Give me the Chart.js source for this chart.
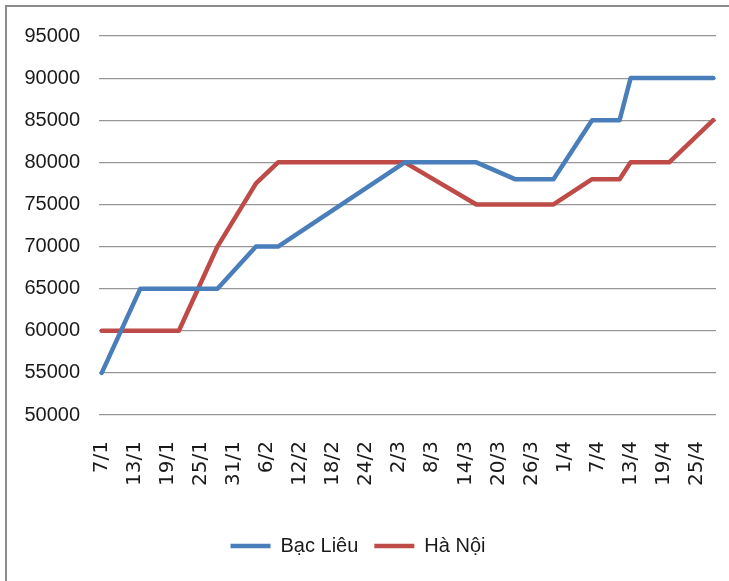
<!DOCTYPE html>
<html>
<head>
<meta charset="utf-8">
<script src="https://cdn.jsdelivr.net/npm/chart.js@4.4.1/dist/chart.umd.min.js"></script>
<style>
  html, body { margin: 0; padding: 0; background: #fff; }
  .wrap { position: relative; width: 729px; height: 581px; overflow: hidden; }
  .frame { position: absolute; left: 5px; top: 5px; width: 740px; height: 600px;
           border-left: 2px solid #8c8c8c; border-top: 2px solid #8c8c8c; }
  canvas { position: absolute; left: 0; top: 0; }
</style>
</head>
<body>
<div class="wrap">
  <div class="frame"></div>
  <canvas id="priceChart" width="729" height="581"></canvas>
</div>
<script>
  // dates (d/m) where the lines change direction
  const dates = ['7/1', '14/1', '21/1', '28/1', '4/2', '8/2', '3/3', '16/3', '23/3', '30/3', '6/4', '11/4', '13/4', '20/4', '28/4'];
  const bacLieu = [55000, 65000, 65000, 65000, 70000, 70000, 80000, 80000, 78000, 78000, 85000, 85000, 90000, 90000, 90000];
  const haNoi = [60000, 60000, 60000, 70000, 77500, 80000, 80000, 75000, 75000, 75000, 78000, 78000, 80000, 80000, 85000];
  const tickLabels = ['7/1', '13/1', '19/1', '25/1', '31/1', '6/2', '12/2', '18/2', '24/2', '2/3', '8/3', '14/3', '20/3', '26/3', '1/4', '7/4', '13/4', '19/4', '25/4'];
  const yTicks = { min: 50000, max: 95000, step: 5000 };

  // day offset from 7/1
  function dayOf(label) {
    const [d, m] = label.split('/').map(Number);
    return (Date.UTC(2011, m - 1, d) - Date.UTC(2011, 0, 7)) / 86400000;
  }

  function toPoints(values) {
    return values.map((v, i) => ({ x: dayOf(dates[i]), y: v }));
  }

  const tickDays = tickLabels.map(dayOf);
  const lastDay = dayOf(dates[dates.length - 1]);
  const labelFont = { family: "'Liberation Sans', Arial, sans-serif", size: 20 };

  new Chart(document.getElementById('priceChart'), {
    type: 'line',
    data: {
      datasets: [
        { label: 'Bạc Liêu', data: toPoints(bacLieu), borderColor: '#4a7ebb', backgroundColor: '#4a7ebb' },
        { label: 'Hà Nội', data: toPoints(haNoi), borderColor: '#be4b48', backgroundColor: '#be4b48' }
      ]
    },
    options: {
      responsive: false,
      animation: false,
      events: [],
      layout: { padding: { left: 0, right: 13, top: 36, bottom: 15 } },
      elements: {
        line: { borderWidth: 4.5, tension: 0, borderJoinStyle: 'round', borderCapStyle: 'round' },
        point: { radius: 0, borderWidth: 4.5 }
      },
      plugins: {
        tooltip: { enabled: false },
        legend: {
          position: 'bottom',
          labels: {
            usePointStyle: true,
            pointStyle: 'line',
            pointStyleWidth: 40,
            padding: 16,
            color: '#1a1a1a',
            font: labelFont
          }
        }
      },
      scales: {
        x: {
          type: 'linear',
          min: -0.5,
          max: lastDay + 0.5,
          grid: { display: false, drawTicks: false },
          border: { display: false },
          afterBuildTicks: scale => { scale.ticks = tickDays.map(v => ({ value: v })); },
          afterFit: scale => {
            scale.height = 105;
            scale.paddingLeft = 0;
            scale.paddingRight = 0;
          },
          ticks: {
            autoSkip: false,
            minRotation: 90,
            maxRotation: 90,
            padding: 26,
            color: '#1a1a1a',
            font: { family: "'DejaVu Sans', sans-serif", size: 20 },
            callback: (value, index) => tickLabels[index]
          }
        },
        y: {
          min: yTicks.min,
          max: yTicks.max,
          grid: { color: '#969696', lineWidth: 1.2, drawTicks: false },
          border: { display: false },
          afterFit: scale => { scale.width = 99; },
          ticks: {
            stepSize: yTicks.step,
            padding: 19,
            color: '#1a1a1a',
            font: labelFont,
            callback: v => String(v)
          }
        }
      }
    }
  });
</script>
</body>
</html>
